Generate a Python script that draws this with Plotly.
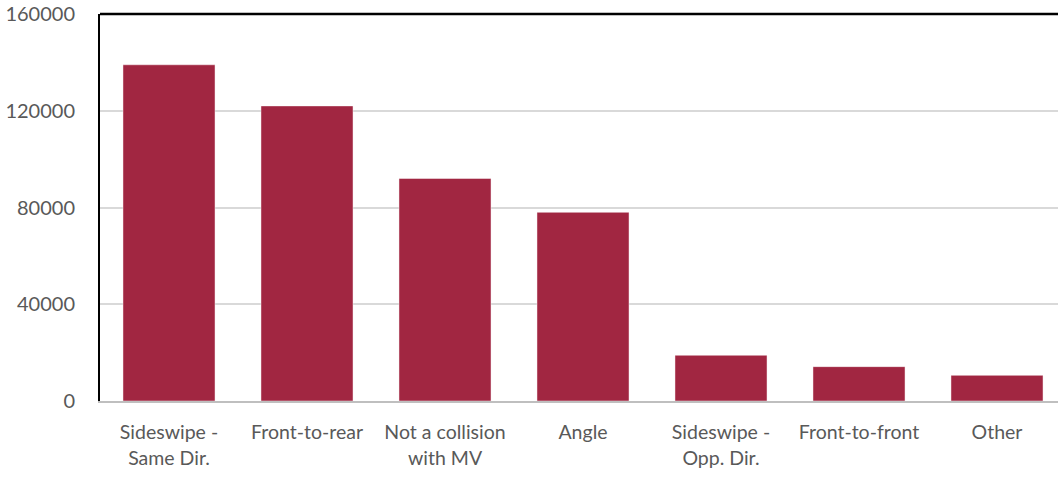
import plotly.graph_objects as go

# Collision types and counts
categories = [
    "Sideswipe -<br>Same Dir.",
    "Front-to-rear",
    "Not a collision<br>with MV",
    "Angle",
    "Sideswipe -<br>Opp. Dir.",
    "Front-to-front",
    "Other",
]
counts = [139000, 122000, 92000, 78000, 18900, 14200, 10600]
y_ticks = [0, 40000, 80000, 120000, 160000]

BAR_COLOR = "#A12641"
TEXT_COLOR = "#595959"
FONT = "Lato"

fig = go.Figure(
    go.Bar(
        x=list(range(len(categories))),
        y=counts,
        marker=dict(color=BAR_COLOR, line=dict(color="rgba(255,255,255,0.45)", width=1)),
        hoverinfo="skip",
    )
)

fig.update_layout(
    width=1058,
    height=478,
    margin=dict(l=100, r=0, t=14, b=77),
    paper_bgcolor="white",
    plot_bgcolor="white",
    bargap=0.333,
    showlegend=False,
    font=dict(family=FONT, size=20, color=TEXT_COLOR),
    xaxis=dict(
        tickmode="array",
        tickvals=list(range(len(categories))),
        ticktext=categories,
        range=[-0.5, 6.442],
        showgrid=False,
        zeroline=False,
        showline=True,
        linecolor="#BFBFBF",
        linewidth=2,
        ticks="",
        ticklabelstandoff=13,
        tickfont=dict(family=FONT, size=19.5, color=TEXT_COLOR),
    ),
    yaxis=dict(
        range=[0, 160000],
        tickmode="array",
        tickvals=y_ticks,
        ticktext=[str(v) for v in y_ticks],
        showgrid=True,
        gridcolor="#D9D9D9",
        gridwidth=1.5,
        zeroline=False,
        showline=True,
        linecolor="black",
        linewidth=2,
        ticks="",
        ticklabelstandoff=19,
        tickfont=dict(family=FONT, size=20, color=TEXT_COLOR),
    ),
    shapes=[
        # top border of the plot frame
        dict(type="line", xref="paper", yref="paper", x0=0, x1=1, y0=1, y1=1,
             line=dict(color="black", width=2.5)),
    ],
)

fig.write_html("out.html")
